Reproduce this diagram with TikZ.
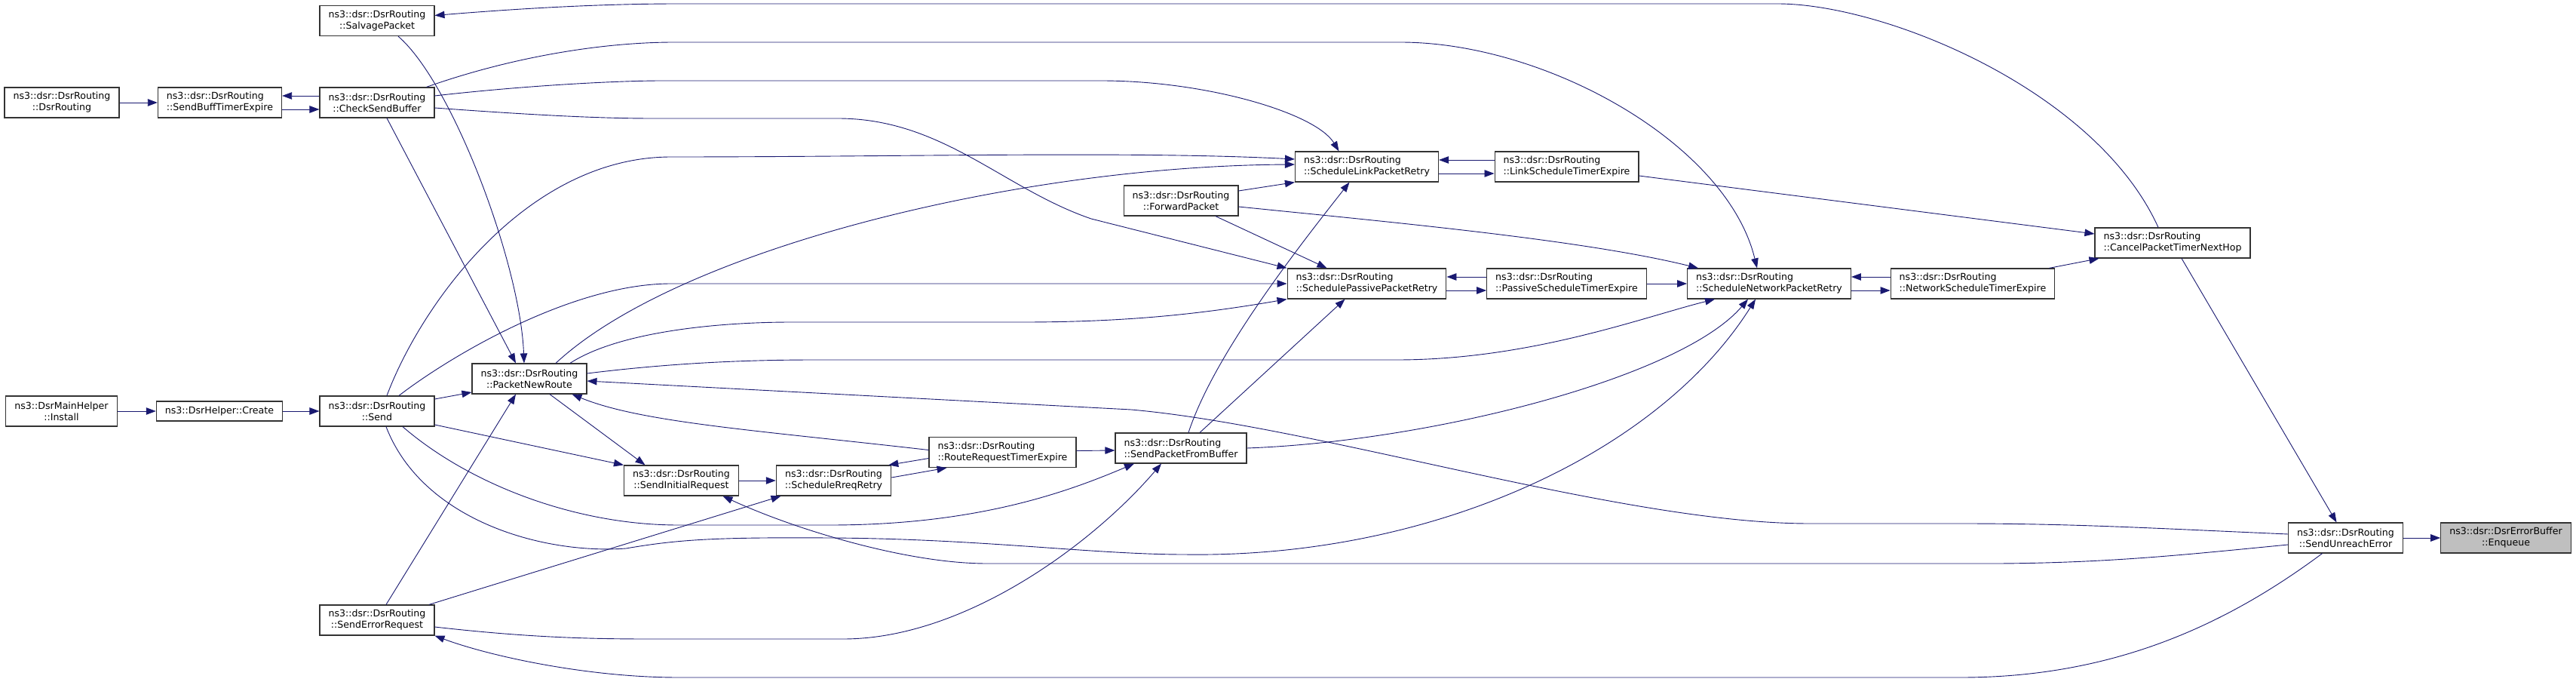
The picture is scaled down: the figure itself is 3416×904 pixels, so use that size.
\documentclass[tikz,border=0pt]{standalone}
\usepackage{fontspec}
\setmainfont{DejaVu Sans}
\usetikzlibrary{arrows.meta, positioning}
\definecolor{callblue}{HTML}{191970}
\definecolor{boxline}{HTML}{333333}
\definecolor{rootfill}{HTML}{BFBFBF}

\begin{document}
\begin{tikzpicture}[x=1pt, y=-1pt, node distance=200pt, on grid,
    fn/.style={draw=boxline, line width=1.2pt, fill=white, align=center,
      inner xsep=11.5pt, inner ysep=2pt, minimum height=40pt,
      font=\fontsize{12.6}{15}\selectfont},
    fnl/.style={fn, align=left},
    root/.style={fn, fill=rootfill},
    call/.style={draw=callblue, line width=0.9pt, -{Triangle[length=13pt,width=9.5pt]}},
    every edge/.style={call}]
      \useasboundingbox (0,0) rectangle (3416,904);

      \node[fn] (dsr) at (82,136) {ns3::dsr::DsrRouting\\::DsrRouting};
      \node[fnl] (buff) [right=209.5pt of dsr] {ns3::dsr::DsrRouting\\::SendBuffTimerExpire};
      \node[fn] (check) [right=208.5pt of buff] {ns3::dsr::DsrRouting\\::CheckSendBuffer};
      \node[fn] (salvage) [above=108.5pt of check] {ns3::dsr::DsrRouting\\::SalvagePacket};
      \node[fn] (send) [below=409pt of check] {ns3::dsr::DsrRouting\\::Send};
      \node[fn, minimum height=26pt] (create) [left=209pt of send] {ns3::DsrHelper::Create};
      \node[fn] (install) [left=209.5pt of create] {ns3::DsrMainHelper\\::Install};
      \node[fn] (err_req) [below=277pt of send] {ns3::dsr::DsrRouting\\::SendErrorRequest};
      \node[fn] (new_route) [above right=43pt and 202pt of send] {ns3::dsr::DsrRouting\\::PacketNewRoute};
      \node[fn] (init_req) [below right=135pt and 201.5pt of new_route] {ns3::dsr::DsrRouting\\::SendInitialRequest};
      \node[fn] (rreq_retry) [right=202pt of init_req] {ns3::dsr::DsrRouting\\::ScheduleRreqRetry};
      \node[fnl] (rreq_timer) [above right=37.5pt and 224pt of rreq_retry] {ns3::dsr::DsrRouting\\::RouteRequestTimerExpire};
      \node[fnl] (from_buff) [above right=5.5pt and 236.5pt of rreq_timer] {ns3::dsr::DsrRouting\\::SendPacketFromBuffer};
      \node[fn] (forward) [above=328pt of from_buff] {ns3::dsr::DsrRouting\\::ForwardPacket};
      \node[fnl] (link_retry) [above right=45pt and 246.5pt of forward] {ns3::dsr::DsrRouting\\::ScheduleLinkPacketRetry};
      \node[fnl] (link_timer) [right=265pt of link_retry] {ns3::dsr::DsrRouting\\::LinkScheduleTimerExpire};
      \node[fnl] (pass_retry) [below=155pt of link_retry] {ns3::dsr::DsrRouting\\::SchedulePassivePacketRetry};
      \node[fnl] (pass_timer) [right=265pt of pass_retry] {ns3::dsr::DsrRouting\\::PassiveScheduleTimerExpire};
      \node[fnl] (net_retry) [right=268.5pt of pass_timer] {ns3::dsr::DsrRouting\\::ScheduleNetworkPacketRetry};
      \node[fnl] (net_timer) [right=270pt of net_retry] {ns3::dsr::DsrRouting\\::NetworkScheduleTimerExpire};
      \node[fnl] (cancel) [above right=54pt and 265pt of net_timer] {ns3::dsr::DsrRouting\\::CancelPacketTimerNextHop};
      \node[fn] (unreach) [below right=391pt and 229.5pt of cancel] {ns3::dsr::DsrRouting\\::SendUnreachError};
      \node[root] (enqueue) [right=212.5pt of unreach] {ns3::dsr::DsrErrorBuffer\\::Enqueue};

      \path (dsr) edge (buff)
            ([yshift=-9pt]buff.east) edge ([yshift=-9pt]check.west)
            ([yshift=9pt]check.west) edge ([yshift=9pt]buff.east)
            ([xshift=13pt]check.south) edge ([xshift=-18pt]new_route.north);
      \path (install) edge (create)
            (create) edge (send)
            ([yshift=16pt]send.east) edge ([yshift=-18pt]new_route.west)
            ([yshift=-18pt]send.east) edge (init_req.north west);
      \path ([xshift=12pt]err_req.north) edge ([xshift=-18pt]new_route.south)
            ([xshift=69pt]err_req.north) edge ([xshift=-70pt]rreq_retry.south)
            ([xshift=27pt]new_route.south) edge ([xshift=-48pt]init_req.north)
            (init_req) edge (rreq_retry);
      \path ([yshift=-8pt]rreq_timer.west) edge ([xshift=-4pt]rreq_retry.north east)
            ([yshift=4pt]rreq_retry.east) edge ([xshift=-74pt]rreq_timer.south)
            ([yshift=2pt]rreq_timer.east) edge ([yshift=-3pt]from_buff.west)
            ([xshift=25pt]from_buff.north) edge ([xshift=-29pt]pass_retry.south);
      \path ([yshift=13pt]forward.east) edge (link_retry.south west)
            ([xshift=46pt]forward.south) edge ([xshift=-53pt]pass_retry.north);
      \path ([yshift=-9pt]link_retry.east) edge ([yshift=-9pt]link_timer.west)
            ([yshift=9pt]link_timer.west) edge ([yshift=9pt]link_retry.east)
            ([yshift=-12pt]link_timer.east) edge ([yshift=12pt]cancel.west);
      \path ([yshift=-9pt]pass_retry.east) edge ([yshift=-9pt]pass_timer.west)
            ([yshift=9pt]pass_timer.west) edge ([yshift=9pt]pass_retry.east)
            (pass_timer) edge (net_retry);
      \path ([yshift=-9pt]net_retry.east) edge ([yshift=-9pt]net_timer.west)
            ([yshift=9pt]net_timer.west) edge ([yshift=9pt]net_retry.east)
            ([xshift=-8pt]net_timer.north east) edge ([xshift=6pt]cancel.south west);
      \path ([xshift=12pt]cancel.south) edge ([xshift=-12pt]unreach.north)
            (unreach) edge (enqueue);

      \draw[call] ([xshift=28pt]salvage.south) .. controls (600,110) and (690,350) .. ([xshift=-7pt]new_route.north);
      \draw[call] ([yshift=9pt]check.east) .. controls (700,113) and (820,107) .. (878,107) -- (1460,107)
            .. controls (1600,107) and (1745,150) .. ([xshift=-37pt]link_retry.north);
      \draw[call] ([xshift=-11pt]check.north east) .. controls (680,75) and (800,56) .. (894,56) -- (1857,56)
            .. controls (2050,56) and (2290,190) .. ([xshift=-16pt]net_retry.north);
      \draw[call] ([yshift=-7pt]check.east) .. controls (700,152) and (790,157) .. (866,157) -- (1111,157)
            .. controls (1250,157) and (1330,250) .. (1447,290) -- (pass_retry.north west);
      \draw[call] ([xshift=-19pt]cancel.north) .. controls (2780,120) and (2500,5) .. (2357,5) -- (900,5)
            .. controls (790,5) and (680,12) .. ([yshift=7pt]salvage.east);

      \draw[call] ([xshift=13pt]send.north) .. controls (560,400) and (700,208) .. (890,208)
            .. controls (1200,208) and (1500,200) .. ([yshift=10pt]link_retry.west);
      \draw[call] ([xshift=29pt]send.north) .. controls (600,470) and (760,376) .. (890,376) -- (pass_retry.west);
      \draw[call] ([xshift=34pt]send.south) .. controls (620,640) and (760,696) .. (900,696) -- (1100,696)
            .. controls (1300,696) and (1420,650) .. ([xshift=-62pt]from_buff.south);
      \draw[call] ([xshift=12pt]send.south) .. controls (560,690) and (720,735) .. (830,727)
            .. controls (900,715) and (950,712) .. (1100,713)
            .. controls (1300,714) and (1450,735) .. (1571,735)
            .. controls (1900,740) and (2200,600) .. ([xshift=-18pt]net_retry.south);

      \draw[call] ([xshift=35pt]new_route.north) .. controls (900,330) and (1350,220) .. ([yshift=3pt]link_retry.west);
      \draw[call] ([xshift=54pt]new_route.north) .. controls (820,440) and (950,427) .. (1050,427) -- (1356,427)
            .. controls (1500,427) and (1600,415) .. (pass_retry.south west);
      \draw[call] ([yshift=7pt]new_route.east) .. controls (900,480) and (1000,477) .. (1082,477) -- (1852,477)
            .. controls (2030,477) and (2180,420) .. ([xshift=-72pt]net_retry.south);

      \draw[call] ([yshift=-9pt]err_req.east) .. controls (700,845) and (780,847) .. (863,847) -- (1118,847)
            .. controls (1280,847) and (1450,720) .. ([xshift=-26pt]from_buff.south);
      \draw[call] ([yshift=3pt]rreq_timer.west) .. controls (1000,570) and (850,560) .. ([xshift=-20pt]new_route.south east);
      \draw[call] ([xshift=10pt]from_buff.north) .. controls (1610,470) and (1720,330) .. ([xshift=-23pt]link_retry.south);
      \draw[call] (from_buff.east) .. controls (1900,585) and (2230,500) .. ([xshift=-28pt]net_retry.south);
      \draw[call] ([yshift=-8pt]forward.east) .. controls (1850,295) and (2100,318) .. ([xshift=15pt]net_retry.north west);

      \draw[call] ([yshift=5pt]unreach.west) .. controls (2850,700) and (2750,694) .. (2600,694) -- (2400,694)
            .. controls (2150,694) and (1750,565) .. (1500,543) -- ([yshift=-3pt]new_route.east);
      \draw[call] ([yshift=-9pt]unreach.west) .. controls (2900,735) and (2800,746) .. (2650,747) -- (1309,747)
            .. controls (1200,747) and (1050,700) .. ([xshift=55pt]init_req.south);
      \draw[call] ([xshift=-31pt]unreach.south) .. controls (2950,830) and (2800,898) .. (2600,898) -- (900,898)
            .. controls (780,898) and (650,870) .. (err_req.south east);
    \end{tikzpicture}
\end{document}
